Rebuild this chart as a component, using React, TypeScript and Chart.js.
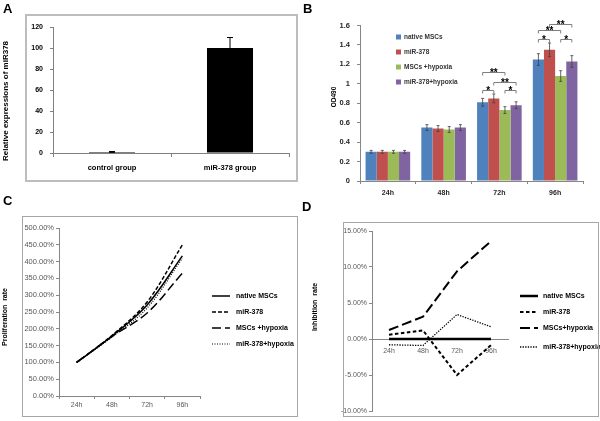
import React, { useEffect, useRef } from "react";
import { Chart, registerables } from "chart.js";

Chart.register(...registerables);

const FONT = "'Liberation Sans', Arial, sans-serif";

// ---------- Panel A ----------
const groupsA = ["control group", "miR-378 group"];
const expressionA = [1, 100];
const expressionErrA = [0.4, 10];

// ---------- Panel B ----------
const timesB = ["24h", "48h", "72h", "96h"];
const labelsB = ["native MSCs", "miR-378", "MSCs +hypoxia", "miR-378+hypoxia"];
const nativeB = [0.3, 0.55, 0.81, 1.25];
const mir378B = [0.3, 0.54, 0.85, 1.35];
const hypoxiaB = [0.3, 0.53, 0.73, 1.08];
const mirHypoxiaB = [0.3, 0.55, 0.78, 1.23];
const nativeErrB = [0.015, 0.03, 0.04, 0.06];
const mir378ErrB = [0.015, 0.03, 0.045, 0.07];
const hypoxiaErrB = [0.015, 0.03, 0.035, 0.055];
const mirHypoxiaErrB = [0.015, 0.03, 0.035, 0.06];
const colorsB = ["#4F81BD", "#C0504D", "#9BBB59", "#8064A2"];
const sigTimeB = [2, 2, 2, 2, 3, 3, 3, 3];
const sigFromB = [0, 0, 1, 2, 0, 0, 1, 2];
const sigToB = [1, 2, 3, 3, 1, 2, 3, 3];
const sigLevelB = [0.94, 1.12, 1.02, 0.94, 1.46, 1.55, 1.62, 1.46];
const sigMarkB = ["*", "**", "**", "*", "*", "**", "**", "*"];

// ---------- Panel C ----------
const timesC = ["24h", "48h", "72h", "96h"];
const labelsC = ["native MSCs", "miR-378", "MSCs +hypoxia", "miR-378+hypoxia"];
const nativeC = [100, 178, 271, 417];
const mir378C = [100, 180, 280, 450];
const hypoxiaC = [100, 177, 247, 366];
const mirHypoxiaC = [100, 175, 262, 410];

// ---------- Panel D ----------
const timesD = ["24h", "48h", "72h", "96h"];
const labelsD = ["native MSCs", "miR-378", "MSCs+hypoxia", "miR-378+hypoxia"];
const nativeD = [0, 0, 0, 0];
const mir378D = [0.6, 1.2, -5.0, -0.85];
const hypoxiaD = [1.25, 3.1, 9.4, 13.6];
const mirHypoxiaD = [-0.8, -0.9, 3.4, 1.7];

const pct = (v: any) => Number(v).toFixed(2) + "%";

function errorBars(errs: number[][], color: string, cap: number, lw: number) {
  return {
    id: "errorBars",
    afterDatasetsDraw(chart: any) {
      const ctx = chart.ctx;
      const ys = chart.scales.y;
      ctx.save();
      ctx.strokeStyle = color;
      ctx.lineWidth = lw;
      chart.data.datasets.forEach((ds: any, i: number) => {
        const meta = chart.getDatasetMeta(i);
        meta.data.forEach((el: any, j: number) => {
          const v = ds.data[j] as number;
          const e = errs[i][j];
          const t = ys.getPixelForValue(v + e);
          const b = ys.getPixelForValue(v - e);
          ctx.beginPath();
          ctx.moveTo(el.x, t);
          ctx.lineTo(el.x, b);
          ctx.moveTo(el.x - cap, t);
          ctx.lineTo(el.x + cap, t);
          ctx.moveTo(el.x - cap, b);
          ctx.lineTo(el.x + cap, b);
          ctx.stroke();
        });
      });
      ctx.restore();
    },
  };
}

const significance = {
  id: "significance",
  afterDatasetsDraw(chart: any) {
    const ctx = chart.ctx;
    const ys = chart.scales.y;
    ctx.save();
    ctx.strokeStyle = "#7f7f7f";
    ctx.lineWidth = 1;
    ctx.fillStyle = "#000";
    ctx.font = `bold 10px ${FONT}`;
    ctx.textAlign = "center";
    ctx.textBaseline = "alphabetic";
    sigTimeB.forEach((t, k) => {
      const x1 = chart.getDatasetMeta(sigFromB[k]).data[t].x;
      const x2 = chart.getDatasetMeta(sigToB[k]).data[t].x;
      const y = Math.round(ys.getPixelForValue(sigLevelB[k])) + 0.5;
      ctx.beginPath();
      ctx.moveTo(x1, y + 3);
      ctx.lineTo(x1, y);
      ctx.lineTo(x2, y);
      ctx.lineTo(x2, y + 3);
      ctx.stroke();
      ctx.fillText(sigMarkB[k], (x1 + x2) / 2, y + 3);
    });
    ctx.restore();
  },
};

type Annot = {
  title: string;
  titleX: number;
  titleY: number;
  titleFont: string;
  legend?: {
    kind: "box" | "line";
    x: number;
    textX: number;
    ys: number[];
    len: number;
    font: string;
    color: string;
  };
};

function annotate(a: Annot) {
  return {
    id: "annotate",
    afterDraw(chart: any) {
      const ctx = chart.ctx;
      ctx.save();
      ctx.translate(a.titleX, a.titleY);
      ctx.rotate(-Math.PI / 2);
      ctx.font = a.titleFont;
      ctx.fillStyle = "#000";
      ctx.textAlign = "center";
      ctx.textBaseline = "middle";
      ctx.fillText(a.title, 0, 0);
      ctx.restore();
      const L = a.legend;
      if (!L) return;
      ctx.save();
      chart.data.datasets.forEach((ds: any, i: number) => {
        const y = L.ys[i];
        if (L.kind === "box") {
          ctx.fillStyle = ds.backgroundColor;
          ctx.fillRect(L.x, y - 2.5, L.len, L.len);
        } else {
          ctx.strokeStyle = ds.borderColor;
          ctx.lineWidth = ds.borderWidth;
          ctx.setLineDash(ds.borderDash || []);
          ctx.beginPath();
          ctx.moveTo(L.x, y);
          ctx.lineTo(L.x + L.len, y);
          ctx.stroke();
          ctx.setLineDash([]);
        }
        ctx.font = L.font;
        ctx.fillStyle = L.color;
        ctx.textAlign = "left";
        ctx.textBaseline = "middle";
        ctx.fillText(ds.label, L.textX, y);
      });
      ctx.restore();
    },
  };
}

function configA(): any {
  return {
    type: "bar",
    data: {
      labels: groupsA,
      datasets: [
        {
          label: "Relative expression",
          data: expressionA,
          backgroundColor: "#000",
          barPercentage: 0.39,
          categoryPercentage: 1,
        },
      ],
    },
    options: {
      responsive: false,
      animation: false,
      devicePixelRatio: 1,
      layout: { padding: { left: 0, top: 13, right: 11, bottom: 6 } },
      plugins: { legend: { display: false }, tooltip: { enabled: false } },
      scales: {
        x: {
          grid: { drawOnChartArea: false, tickLength: 4, color: "#808080", offset: true },
          border: { color: "#808080" },
          ticks: { font: { family: FONT, size: 7.5, weight: "bold" }, color: "#000", padding: 6 },
          afterFit: (s: any) => {
            s.height = 30;
          },
        },
        y: {
          min: 0,
          max: 120,
          ticks: { stepSize: 20, font: { family: FONT, size: 7, weight: "bold" }, color: "#000", padding: 7 },
          grid: { drawOnChartArea: false, tickLength: 3, color: "#808080" },
          border: { color: "#808080" },
          afterFit: (s: any) => {
            s.width = 53;
          },
        },
      },
    },
    plugins: [
      errorBars([expressionErrA], "#000", 3, 1),
      annotate({ title: "Relative expressions of miR378", titleX: 6, titleY: 87, titleFont: `bold 8px ${FONT}` }),
    ],
  };
}

function configB(): any {
  const series = [nativeB, mir378B, hypoxiaB, mirHypoxiaB];
  return {
    type: "bar",
    data: {
      labels: timesB,
      datasets: series.map((d, i) => ({
        label: labelsB[i],
        data: d,
        backgroundColor: colorsB[i],
        barPercentage: 1,
        categoryPercentage: 0.8,
      })),
    },
    options: {
      responsive: false,
      animation: false,
      devicePixelRatio: 1,
      layout: { padding: { left: 0, top: 7, right: 17, bottom: 9 } },
      plugins: { legend: { display: false }, tooltip: { enabled: false } },
      scales: {
        x: {
          grid: { drawOnChartArea: false, tickLength: 3, color: "#868686", offset: true },
          border: { color: "#868686" },
          ticks: { font: { family: FONT, size: 7, weight: "bold" }, color: "#262626", padding: 4.5 },
          afterFit: (s: any) => {
            s.height = 20;
          },
        },
        y: {
          min: 0,
          max: 1.6,
          ticks: {
            stepSize: 0.2,
            font: { family: FONT, size: 7.5, weight: "bold" },
            color: "#262626",
            padding: 7,
            callback: (v: any) => String(Math.round(Number(v) * 10) / 10),
          },
          grid: { drawOnChartArea: false, tickLength: 3, color: "#868686" },
          border: { color: "#868686" },
          afterFit: (s: any) => {
            s.width = 60;
          },
        },
      },
    },
    plugins: [
      errorBars([nativeErrB, mir378ErrB, hypoxiaErrB, mirHypoxiaErrB], "#404040", 1.5, 0.8),
      significance,
      annotate({
        title: "OD490",
        titleX: 34,
        titleY: 83,
        titleFont: `bold 6.5px ${FONT}`,
        legend: {
          kind: "box",
          x: 96,
          textX: 104,
          ys: [23, 38, 53, 68],
          len: 5,
          font: `bold 6.5px ${FONT}`,
          color: "#333",
        },
      }),
    ],
  };
}

function lineDatasets(series: number[][], labels: string[], widths: number[], dashes: number[][], tension: number) {
  return series.map((d, i) => ({
    label: labels[i],
    data: d,
    borderColor: "#000",
    backgroundColor: "#000",
    borderWidth: widths[i],
    borderDash: dashes[i],
    pointRadius: 0,
    fill: false,
    tension,
  }));
}

function configC(): any {
  return {
    type: "line",
    data: {
      labels: timesC,
      datasets: lineDatasets(
        [nativeC, mir378C, hypoxiaC, mirHypoxiaC],
        labelsC,
        [1.5, 1.5, 1.5, 1.2],
        [[], [4, 2], [9, 4], [1, 1.5]],
        0.35
      ),
    },
    options: {
      responsive: false,
      animation: false,
      devicePixelRatio: 1,
      layout: { padding: { left: 0, top: 18, right: 100, bottom: 5 } },
      plugins: { legend: { display: false }, tooltip: { enabled: false } },
      scales: {
        x: {
          offset: true,
          grid: { drawOnChartArea: false, tickLength: 3, color: "#868686", offset: true },
          border: { color: "#868686" },
          ticks: { font: { family: FONT, size: 7 }, color: "#595959", padding: 1.5 },
          afterFit: (s: any) => {
            s.height = 20;
          },
        },
        y: {
          min: 0,
          max: 500,
          ticks: { stepSize: 50, font: { family: FONT, size: 7.5 }, color: "#595959", padding: 2, callback: pct },
          grid: { drawOnChartArea: false, tickLength: 3, color: "#868686" },
          border: { color: "#868686" },
          afterFit: (s: any) => {
            s.width = 59;
          },
        },
      },
    },
    plugins: [
      annotate({
        title: "Proliferation  rate",
        titleX: 5,
        titleY: 107,
        titleFont: `bold 7px ${FONT}`,
        legend: {
          kind: "line",
          x: 212,
          textX: 236,
          ys: [86, 102, 118, 134],
          len: 18,
          font: `bold 7px ${FONT}`,
          color: "#000",
        },
      }),
    ],
  };
}

function configD(): any {
  return {
    type: "line",
    data: {
      labels: timesD,
      datasets: lineDatasets(
        [nativeD, mir378D, hypoxiaD, mirHypoxiaD],
        labelsD,
        [2.5, 2, 2, 1.3],
        [[], [3.5, 2.5], [10, 4], [1.3, 1.3]],
        0
      ),
    },
    options: {
      responsive: false,
      animation: false,
      devicePixelRatio: 1,
      layout: { padding: { left: 0, top: 21, right: 92, bottom: 10 } },
      plugins: { legend: { display: false }, tooltip: { enabled: false } },
      scales: {
        x: {
          position: { y: 0 },
          offset: true,
          grid: { drawOnChartArea: false, drawTicks: false, color: "#868686", offset: true },
          border: { color: "#868686" },
          ticks: { font: { family: FONT, size: 7 }, color: "#595959", padding: 7.5 },
        },
        y: {
          min: -10,
          max: 15,
          ticks: { stepSize: 5, font: { family: FONT, size: 7 }, color: "#595959", padding: 2, callback: pct },
          grid: { drawOnChartArea: false, tickLength: 3, color: "#868686" },
          border: { color: "#868686" },
          afterFit: (s: any) => {
            s.width = 72;
          },
        },
      },
    },
    plugins: [
      annotate({
        title: "Inhibition  rate",
        titleX: 15.5,
        titleY: 97,
        titleFont: `bold 7px ${FONT}`,
        legend: {
          kind: "line",
          x: 220,
          textX: 243,
          ys: [86, 102, 118, 137],
          len: 18,
          font: `bold 7px ${FONT}`,
          color: "#000",
        },
      }),
    ],
  };
}

function ChartCanvas(props: { left: number; top: number; width: number; height: number; make: () => any }) {
  const ref = useRef<HTMLCanvasElement>(null);
  useEffect(() => {
    const chart = new Chart(ref.current as HTMLCanvasElement, props.make());
    return () => chart.destroy();
  }, []);
  return (
    <canvas
      ref={ref}
      width={props.width}
      height={props.height}
      style={{ position: "absolute", left: props.left, top: props.top, width: props.width, height: props.height }}
    />
  );
}

function Box(props: { left: number; top: number; width: number; height: number; border: string }) {
  return (
    <div
      style={{
        position: "absolute",
        left: props.left,
        top: props.top,
        width: props.width,
        height: props.height,
        border: props.border,
        boxSizing: "border-box",
        pointerEvents: "none",
      }}
    />
  );
}

function Letter(props: { left: number; top: number; text: string }) {
  return (
    <div
      style={{
        position: "absolute",
        left: props.left,
        top: props.top,
        font: `bold 13px ${FONT}`,
        lineHeight: "13px",
        color: "#000",
      }}
    >
      {props.text}
    </div>
  );
}

export default function App() {
  return (
    <div style={{ position: "fixed", left: 0, top: 0, width: 600, height: 421, background: "#fff", overflow: "hidden" }}>
      <ChartCanvas left={0} top={14} width={300} height={175} make={configA} />
      <ChartCanvas left={300} top={14} width={300} height={196} make={configB} />
      <ChartCanvas left={0} top={210} width={300} height={211} make={configC} />
      <ChartCanvas left={300} top={210} width={300} height={211} make={configD} />
      <Box left={25} top={14} width={273} height={168} border="2px solid #bdbdbd" />
      <Box left={22} top={216} width={276} height={201} border="1px solid #a6a6a6" />
      <Box left={343} top={222} width={256} height={195} border="1px solid #a6a6a6" />
      <Letter left={3} top={2} text="A" />
      <Letter left={303} top={2} text="B" />
      <Letter left={3} top={194} text="C" />
      <Letter left={302} top={200} text="D" />
    </div>
  );
}
